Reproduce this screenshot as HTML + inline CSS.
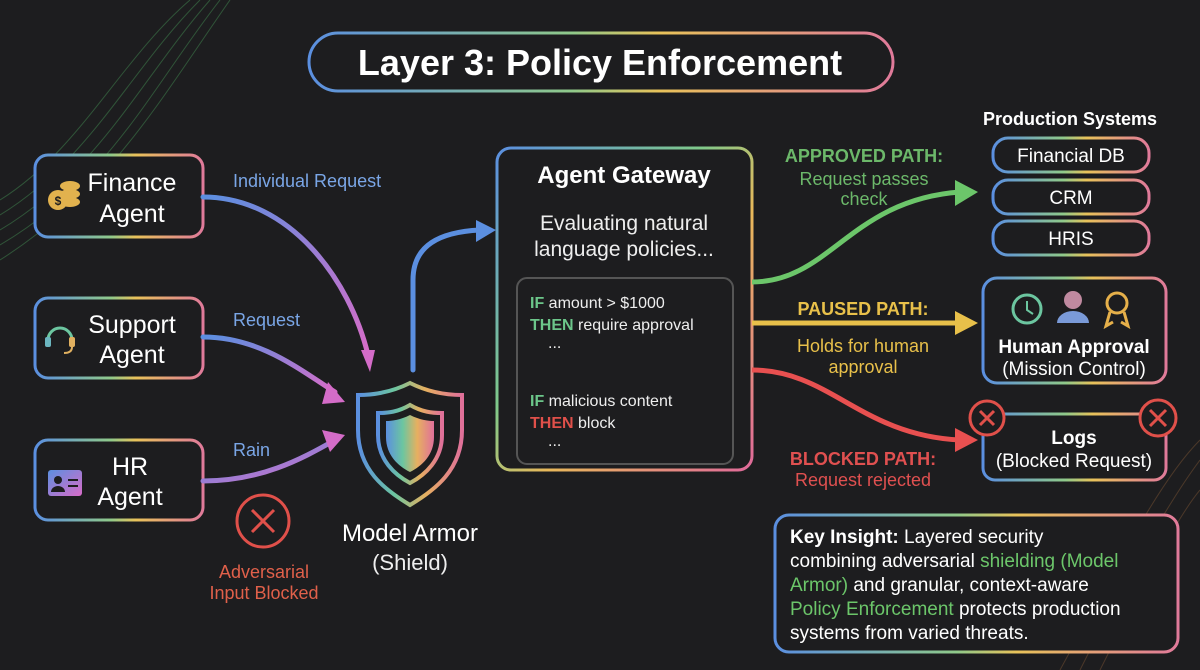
<!DOCTYPE html>
<html><head><meta charset="utf-8"><style>
html,body{margin:0;padding:0;background:#1d1d1f;}
svg{display:block;font-family:"Liberation Sans",sans-serif;}
</style></head><body>
<svg width="1200" height="670" viewBox="0 0 1200 670" xmlns="http://www.w3.org/2000/svg">
<defs>
<linearGradient id="rb" x1="0" y1="0" x2="1" y2="0">
<stop offset="0" stop-color="#5b8fe0"/><stop offset="0.45" stop-color="#8fc98a"/><stop offset="0.6" stop-color="#e8c25a"/><stop offset="1" stop-color="#e07a9a"/></linearGradient>
<linearGradient id="rbv" x1="0" y1="0" x2="1" y2="1">
<stop offset="0" stop-color="#5b8fe0"/><stop offset="0.4" stop-color="#7fc98a"/><stop offset="0.6" stop-color="#e8b85a"/><stop offset="1" stop-color="#e06a9a"/></linearGradient>
<linearGradient id="bp" x1="0" y1="0" x2="1" y2="1">
<stop offset="0" stop-color="#5b8fe0"/><stop offset="1" stop-color="#d86cc8"/></linearGradient>
<linearGradient id="sf" x1="0" y1="0" x2="1" y2="0">
<stop offset="0" stop-color="#5b8fe0"/><stop offset="0.35" stop-color="#6cc6a0"/><stop offset="0.65" stop-color="#e6b060"/><stop offset="1" stop-color="#e0709a"/></linearGradient>
<marker id="ap" markerWidth="8" markerHeight="8" refX="4" refY="4" orient="auto" markerUnits="userSpaceOnUse" viewBox="0 0 8 8"><path d="M0,0 L8,4 L0,8 z" fill="#d46cc8"/></marker>
</defs>
<rect width="1200" height="670" fill="#1d1d1f"/>
<!-- decorative waves -->
<g stroke="#3d7a4a" stroke-width="1" fill="none" opacity="0.6">
<path d="M0,200 C80,150 120,60 190,0"/><path d="M0,215 C90,160 130,70 200,0"/><path d="M0,230 C100,170 140,80 210,0"/><path d="M0,245 C110,180 150,90 220,0"/><path d="M0,260 C110,190 160,100 230,0"/>
</g>
<g stroke="#6a4a30" stroke-width="1" fill="none" opacity="0.6">
<path d="M1060,670 C1120,560 1160,480 1200,440"/><path d="M1080,670 C1130,570 1170,500 1200,460"/><path d="M1100,670 C1140,590 1175,520 1200,490"/>
</g>
<!-- title -->
<rect x="309" y="33" width="584" height="58" rx="29" fill="#1d1d1f" stroke="url(#rb)" stroke-width="3"/>
<text x="600" y="75" text-anchor="middle" fill="#fff" font-size="36" font-weight="bold">Layer 3: Policy Enforcement</text>
<!-- agents -->
<g fill="#1d1d1f" stroke="url(#rb)" stroke-width="3">
<rect x="35" y="155" width="168" height="82" rx="13"/>
<rect x="35" y="298" width="168" height="80" rx="13"/>
<rect x="35" y="440" width="168" height="80" rx="13"/>
</g>
<g fill="#fff" font-size="25" text-anchor="middle">
<text x="132" y="191">Finance</text><text x="132" y="222">Agent</text>
<text x="132" y="333">Support</text><text x="132" y="363">Agent</text>
<text x="130" y="475">HR</text><text x="130" y="505">Agent</text>
</g>
<!-- icons -->
<g fill="#e2b24e"><ellipse cx="70" cy="186" rx="10" ry="5"/><ellipse cx="70" cy="194" rx="10" ry="5"/><ellipse cx="70" cy="202" rx="10" ry="5"/><circle cx="58" cy="200" r="10"/></g>
<text x="58" y="205" font-size="12" fill="#1d1d1f" text-anchor="middle" font-weight="bold">$</text>
<path d="M48,340 a12,12 0 0 1 24,0" stroke="#6cc6a0" stroke-width="3" fill="none"/><rect x="45" y="337" width="6" height="10" rx="2" fill="#6cb6c0"/><rect x="69" y="337" width="6" height="10" rx="2" fill="#e0b060"/><path d="M72,347 q0,6 -8,6" stroke="#e0b060" stroke-width="2" fill="none"/>
<rect x="48" y="470" width="34" height="26" rx="3" fill="url(#bp)"/><circle cx="58" cy="480" r="4" fill="#1d1d1f"/><path d="M51,492 a7,6 0 0 1 14,0z" fill="#1d1d1f"/><rect x="68" y="479" width="10" height="2" fill="#1d1d1f"/><rect x="68" y="485" width="10" height="2" fill="#1d1d1f"/>
<!-- left arrows -->
<g fill="none" stroke-width="5" stroke-linecap="round">
<path d="M203,197 C290,197 350,280 368,355" stroke="url(#bp)"/>
<path d="M203,337 C260,337 300,370 335,392" stroke="url(#bp)"/>
<path d="M203,481 C260,481 300,460 335,440" stroke="url(#bp)"/>
<path d="M413,370 L413,280 C413,245 440,232 480,230" stroke="#5b8fe0"/>
</g>
<path d="M361,350 L375,350 L370,372 z" fill="#d46cc8"/>
<path d="M328,382 L345,402 L322,404 z" fill="#d46cc8"/>
<path d="M322,430 L345,435 L330,452 z" fill="#d46cc8"/>
<path d="M476,220 L496,230 L476,242 z" fill="#5b8fe0"/>
<g fill="#7aa6e6" font-size="18"><text x="233" y="187">Individual Request</text><text x="233" y="326">Request</text><text x="233" y="456">Rain</text></g>
<!-- shield -->
<path d="M410,383 C390,393 370,395 358,395 L358,430 C358,470 385,490 410,505 C435,490 462,470 462,430 L462,395 C450,395 430,393 410,383z" fill="none" stroke="url(#sf)" stroke-width="4"/>
<path d="M410,405 C398,412 388,413 378,413 L378,435 C378,460 395,475 410,483 C425,475 442,460 442,435 L442,413 C432,413 422,412 410,405z" fill="none" stroke="url(#sf)" stroke-width="4"/>
<path d="M410,415 C400,420 392,421 386,421 L386,437 C386,455 398,466 410,472 C422,466 434,455 434,437 L434,421 C428,421 420,420 410,415z" fill="url(#sf)"/>
<text x="410" y="541" text-anchor="middle" fill="#fff" font-size="24">Model Armor</text>
<text x="410" y="570" text-anchor="middle" fill="#eee" font-size="22">(Shield)</text>
<circle cx="263" cy="521" r="26" fill="none" stroke="#e0504a" stroke-width="3"/>
<path d="M252,510 L274,532 M274,510 L252,532" stroke="#e0504a" stroke-width="3"/>
<g fill="#e0604a" font-size="18" text-anchor="middle"><text x="264" y="578">Adversarial</text><text x="264" y="599">Input Blocked</text></g>
<!-- gateway -->
<rect x="497" y="148" width="255" height="322" rx="14" fill="#1d1d1f" stroke="url(#rbv)" stroke-width="3"/>
<text x="624" y="183" text-anchor="middle" fill="#fff" font-size="24" font-weight="bold">Agent Gateway</text>
<line x1="497" y1="197" x2="752" y2="197" stroke="url(#rb)" stroke-width="2"/>
<text x="624" y="230" text-anchor="middle" fill="#eee" font-size="21">Evaluating natural</text>
<text x="624" y="256" text-anchor="middle" fill="#eee" font-size="21">language policies...</text>
<rect x="517" y="278" width="216" height="186" rx="10" fill="#1d1d1f" stroke="#555" stroke-width="2"/>
<g font-size="16" fill="#eee">
<text x="530" y="308"><tspan fill="#6cc68a" font-weight="bold">IF</tspan> amount &gt; $1000</text>
<text x="530" y="330"><tspan fill="#6cc68a" font-weight="bold">THEN</tspan> require approval</text>
<text x="548" y="348">...</text>
<text x="530" y="406"><tspan fill="#6cc68a" font-weight="bold">IF</tspan> malicious content</text>
<text x="530" y="428"><tspan fill="#e0504a" font-weight="bold">THEN</tspan> block</text>
<text x="548" y="446">...</text>
</g>
<!-- right arrows -->
<g fill="none" stroke-width="5">
<path d="M752,282 C830,282 850,200 960,192" stroke="#6cc66a"/>
<path d="M752,323 L960,323" stroke="#e8c04a"/>
<path d="M752,370 C830,370 860,435 960,440" stroke="#e85050"/>
</g>
<path d="M955,180 L978,192 L955,206 z" fill="#6cc66a"/>
<path d="M955,311 L978,323 L955,335 z" fill="#e8c04a"/>
<path d="M955,428 L978,440 L955,452 z" fill="#e85050"/>
<g text-anchor="middle" font-size="18">
<text x="864" y="162" fill="#6cb86a" font-weight="bold">APPROVED PATH:</text>
<text x="864" y="185" fill="#6cb86a">Request passes</text>
<text x="864" y="205" fill="#6cb86a">check</text>
<text x="863" y="315" fill="#e8c04a" font-weight="bold">PAUSED PATH:</text>
<text x="863" y="352" fill="#e8c04a">Holds for human</text>
<text x="863" y="373" fill="#e8c04a">approval</text>
<text x="863" y="465" fill="#e05050" font-weight="bold">BLOCKED PATH:</text>
<text x="863" y="486" fill="#e05050">Request rejected</text>
</g>
<!-- production -->
<text x="1070" y="125" text-anchor="middle" fill="#fff" font-size="18" font-weight="bold">Production Systems</text>
<g fill="#1d1d1f" stroke="url(#rb)" stroke-width="3">
<rect x="993" y="138" width="156" height="34" rx="15"/>
<rect x="993" y="180" width="156" height="34" rx="15"/>
<rect x="993" y="221" width="156" height="34" rx="15"/>
<rect x="983" y="278" width="183" height="105" rx="14"/>
<rect x="983" y="414" width="183" height="66" rx="12"/>
</g>
<g fill="#fff" font-size="19" text-anchor="middle">
<text x="1071" y="162">Financial DB</text><text x="1071" y="204">CRM</text><text x="1071" y="245">HRIS</text>
<text x="1074" y="353" font-weight="bold">Human Approval</text>
<text x="1074" y="375">(Mission Control)</text>
<text x="1074" y="444" font-weight="bold">Logs</text>
<text x="1074" y="467">(Blocked Request)</text>
</g>
<circle cx="1027" cy="309" r="14" fill="none" stroke="#6cc6a0" stroke-width="3"/><path d="M1027,301 L1027,310 L1033,314" stroke="#6cc6a0" stroke-width="2" fill="none"/>
<circle cx="1073" cy="300" r="9" fill="#c08aa0"/><path d="M1057,323 a16,12 0 0 1 32,0z" fill="#7a9ad8"/>
<circle cx="1117" cy="303" r="10" fill="none" stroke="#e6b04a" stroke-width="3"/><path d="M1110,312 L1106,326 L1113,322 M1124,312 L1128,326 L1121,322" stroke="#e6b04a" stroke-width="3" fill="none"/>
<g fill="#1d1d1f" stroke="#e0504a" stroke-width="3">
<circle cx="987" cy="418" r="17"/><circle cx="1158" cy="418" r="18"/></g>
<path d="M980,411 L994,425 M994,411 L980,425 M1150,410 L1166,426 M1166,410 L1150,426" stroke="#e0504a" stroke-width="3"/>
<!-- key insight -->
<rect x="775" y="515" width="403" height="137" rx="14" fill="#1d1d1f" stroke="url(#rb)" stroke-width="3"/>
<g fill="#fff" font-size="19">
<text x="790" y="543"><tspan font-weight="bold">Key Insight:</tspan> Layered security</text>
<text x="790" y="567">combining adversarial <tspan fill="#6cc66a">shielding (Model</tspan></text>
<text x="790" y="591"><tspan fill="#6cc66a">Armor)</tspan> and granular, context-aware</text>
<text x="790" y="615"><tspan fill="#6cc66a">Policy Enforcement</tspan> protects production</text>
<text x="790" y="639">systems from varied threats.</text>
</g>
</svg>
</body></html>
